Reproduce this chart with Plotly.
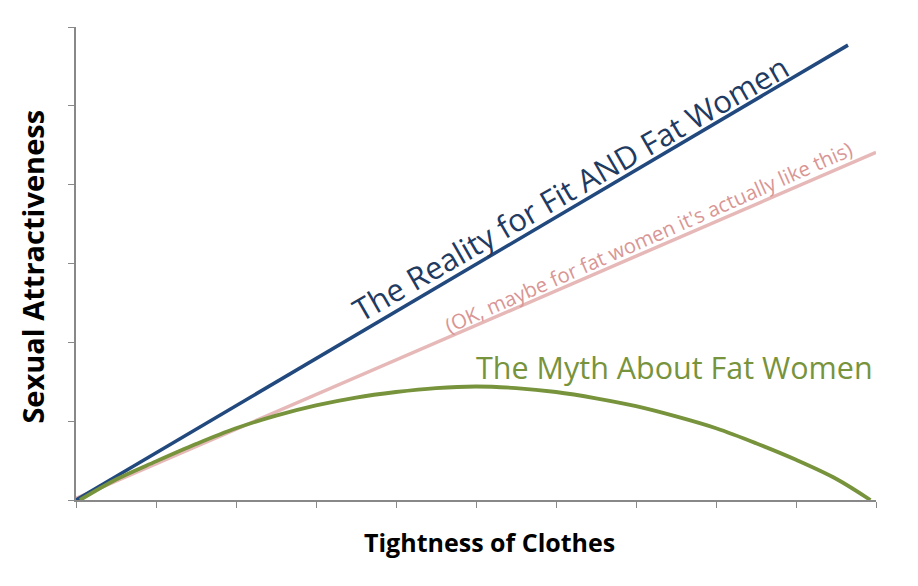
import plotly.graph_objects as go

# Data
reality_x = [0, 9.65]
reality_y = [0, 5.77]

maybe_x = [0, 10]
maybe_y = [0.02, 4.41]

myth_x = [0.05, 0.5, 1, 1.5, 2, 2.5, 3, 3.5, 4, 4.5, 5, 5.5, 6, 6.5, 7, 7.5, 8, 8.5, 9, 9.5, 9.93]
myth_y = [0, 0.26, 0.49, 0.71, 0.91, 1.07, 1.20, 1.30, 1.37, 1.42, 1.44, 1.42, 1.37, 1.29, 1.19, 1.06, 0.91, 0.72, 0.51, 0.27, 0]

x_ticks = list(range(0, 11))
y_ticks = list(range(0, 7))

FONT = "Open Sans"

fig = go.Figure()
fig.add_trace(go.Scatter(x=maybe_x, y=maybe_y, mode="lines",
                         line=dict(color="#E6B9B8", width=3.5), hoverinfo="skip"))
fig.add_trace(go.Scatter(x=reality_x, y=reality_y, mode="lines",
                         line=dict(color="#22497E", width=3.5), hoverinfo="skip"))
fig.add_trace(go.Scatter(x=myth_x, y=myth_y, mode="lines",
                         line=dict(color="#77933C", width=3.8, shape="spline", smoothing=1.0),
                         hoverinfo="skip"))

annotations = [
    dict(x=6.18, y=3.96, xref="x", yref="y", text="The Reality for Fit AND Fat Women",
         showarrow=False, textangle=-30, xanchor="center", yanchor="middle",
         font=dict(family=FONT, size=31, color="#1F3B62")),
    dict(x=7.15, y=3.34, xref="x", yref="y", text="(OK, maybe for fat women it's actually like this)",
         showarrow=False, textangle=-23.8, xanchor="center", yanchor="middle",
         font=dict(family=FONT, size=20.4, color="#D99694")),
    dict(x=7.475, y=1.686, xref="x", yref="y", text="The Myth About Fat Women",
         showarrow=False, xanchor="center", yanchor="middle",
         font=dict(family=FONT, size=30.5, color="#77933C")),
    dict(x=0.5175, y=-0.089, xref="paper", yref="paper", text="<b>Tightness of Clothes</b>",
         showarrow=False, xanchor="center", yanchor="middle",
         font=dict(family=FONT, size=25, color="#000000")),
    dict(x=-0.054, y=0.493, xref="paper", yref="paper", text="<b>Sexual Attractiveness</b>",
         showarrow=False, textangle=-90, xanchor="center", yanchor="middle",
         font=dict(family=FONT, size=29, color="#000000")),
]

fig.update_layout(
    width=910, height=578,
    margin=dict(l=68, r=42, t=19, b=86),
    paper_bgcolor="white", plot_bgcolor="white",
    showlegend=False,
    annotations=annotations,
    xaxis=dict(range=[0, 10], tickvals=x_ticks, showticklabels=False,
               ticks="outside", ticklen=6, tickcolor="#888888", tickwidth=1,
               showline=True, linecolor="#888888", linewidth=1.5,
               showgrid=False, zeroline=False, fixedrange=True),
    yaxis=dict(range=[0, 6], tickvals=y_ticks, showticklabels=False,
               ticks="outside", ticklen=6, tickcolor="#888888", tickwidth=1,
               showline=True, linecolor="#888888", linewidth=1.5,
               showgrid=False, zeroline=False, fixedrange=True),
)

fig.write_html("out.html", config={"displayModeBar": False})
